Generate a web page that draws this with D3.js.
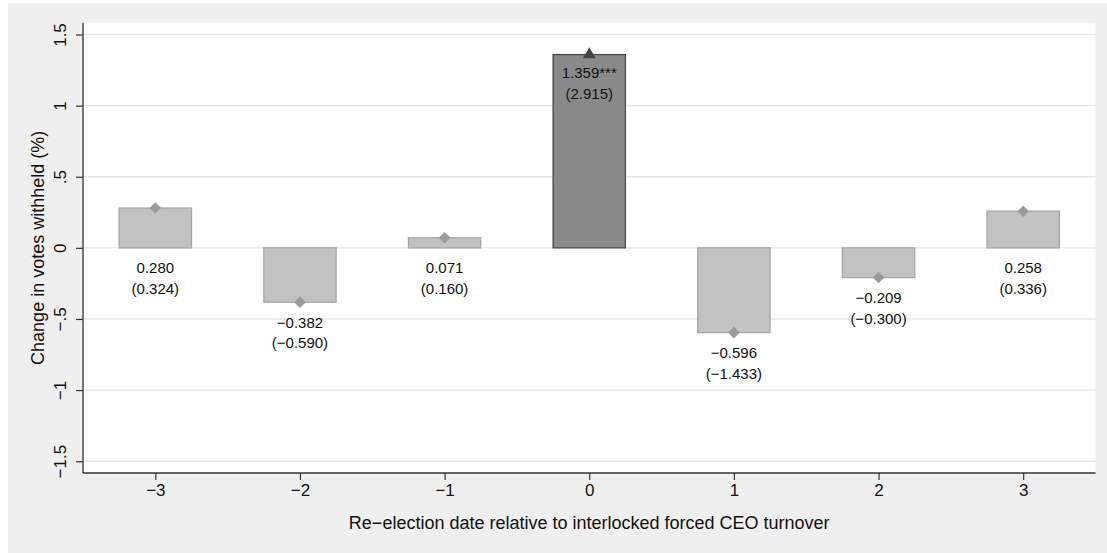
<!DOCTYPE html>
<html><head><meta charset="utf-8">
<script src="https://cdn.jsdelivr.net/npm/d3@7"></script>
<style>body{margin:0;background:#fff;}svg{display:block;font-family:"Liberation Sans",Arial,Helvetica,sans-serif;}</style>
</head><body>
<script>
const periods = [-3, -2, -1, 0, 1, 2, 3];
const coefs = [0.280, -0.382, 0.071, 1.359, -0.596, -0.209, 0.258];
const tstats = ["(0.324)", "(−0.590)", "(0.160)", "(2.915)", "(−1.433)", "(−0.300)", "(0.336)"];
const coefLabels = ["0.280", "−0.382", "0.071", "1.359***", "−0.596", "−0.209", "0.258"];
const significant = [false, false, false, true, false, false, false];
const yTicks = [-1.5, -1, -0.5, 0, 0.5, 1, 1.5];
const yTickLabels = ["−1.5", "−1", "−.5", "0", ".5", "1", "1.5"];
const xTickLabels = ["−3", "−2", "−1", "0", "1", "2", "3"];

const W = 1107, H = 553;
const svg = d3.select("body").append("svg").attr("width", W).attr("height", H);
svg.append("rect").attr("x", 8).attr("y", 3).attr("width", W - 8).attr("height", H - 3).attr("fill", "#efefef");

const L = 83, R = 1095.5, T = 22.7, B = 473;
svg.append("rect").attr("x", L).attr("y", T).attr("width", R - L).attr("height", B - T).attr("fill", "#fff");

const x = d3.scaleLinear().domain([-3.5, 3.5]).range([L, R]);
const y = d3.scaleLinear().domain([-1.583, 1.583]).range([B, T]);

// gridlines
svg.append("g").selectAll("line").data(yTicks).join("line")
  .attr("x1", L).attr("x2", R).attr("y1", d => y(d)).attr("y2", d => y(d))
  .attr("stroke", "#e8e8e8").attr("stroke-width", 1.5);

// axes
const yAxis = d3.axisLeft(y).tickValues(yTicks).tickSize(7).tickSizeOuter(0)
  .tickFormat((d, i) => yTickLabels[i]);
const gy = svg.append("g").attr("transform", `translate(${L},0)`).call(yAxis);
gy.select(".domain").attr("stroke", "#333").attr("stroke-width", 1.3).attr("d", `M0,${T}V${B}`);
gy.selectAll(".tick line").attr("stroke", "#333").attr("stroke-width", 1.2);
gy.selectAll(".tick text").attr("fill", "#111").attr("font-size", 17)
  .attr("x", 0).attr("dy", 0)
  .attr("transform", "translate(-17,0) rotate(-90)")
  .attr("text-anchor", "middle").attr("dominant-baseline", "auto");

const xAxis = d3.axisBottom(x).tickValues(periods).tickSize(7).tickSizeOuter(0)
  .tickFormat((d, i) => xTickLabels[i]);
const gx = svg.append("g").attr("transform", `translate(0,${B})`).call(xAxis);
gx.select(".domain").attr("stroke", "#333").attr("stroke-width", 1.3).attr("d", `M${L},0H${R}`);
gx.selectAll(".tick line").attr("stroke", "#333").attr("stroke-width", 1.2);
gx.selectAll(".tick text").attr("fill", "#111").attr("font-size", 17).attr("y", 11).attr("dy", "0.71em");

// bars
const bw = 0.5;
const data = periods.map((p, i) => ({p, v: coefs[i], sig: significant[i], c: coefLabels[i], t: tstats[i]}));
svg.append("g").selectAll("rect").data(data).join("rect")
  .attr("x", d => x(d.p - bw / 2)).attr("width", d => x(d.p + bw / 2) - x(d.p - bw / 2))
  .attr("y", d => y(Math.max(0, d.v))).attr("height", d => Math.abs(y(d.v) - y(0)))
  .attr("fill", d => d.sig ? "#8a8a8a" : "#c2c2c2")
  .attr("stroke", d => d.sig ? "#4a4a4a" : "#a6a6a6").attr("stroke-width", 1.3);

// markers
const diamond = d3.symbol().type(d3.symbolDiamond2).size(85);
const tri = d3.symbol().type(d3.symbolTriangle).size(70);
svg.append("g").selectAll("path").data(data).join("path")
  .attr("transform", d => `translate(${x(d.p)},${y(d.v)})`)
  .attr("d", d => d.sig ? tri() : diamond())
  .attr("fill", d => d.sig ? "#444" : "#9a9a9a");

// labels
const lab = svg.append("g").attr("font-size", 15).attr("fill", "#111").attr("text-anchor", "middle");
data.forEach(d => {
  let y1;
  if (d.sig) y1 = y(d.v) + 23.5;
  else y1 = y(Math.min(0, d.v)) + 25.5;
  lab.append("text").attr("x", x(d.p)).attr("y", y1).text(d.c);
  lab.append("text").attr("x", x(d.p)).attr("y", y1 + 20.5).text(d.t);
});

// titles
svg.append("text").attr("x", (L + R) / 2).attr("y", 529).attr("text-anchor", "middle")
  .attr("font-size", 18).attr("fill", "#111")
  .text("Re−election date relative to interlocked forced CEO turnover");
svg.append("text").attr("transform", `translate(44,${(T + B) / 2}) rotate(-90)`).attr("text-anchor", "middle")
  .attr("font-size", 18).attr("fill", "#111")
  .text("Change in votes withheld (%)");
</script>
</body></html>
